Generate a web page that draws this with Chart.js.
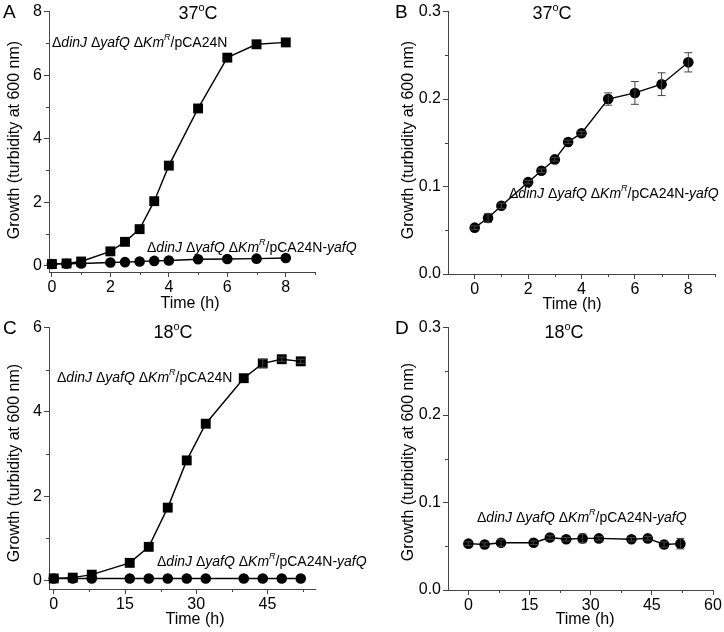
<!DOCTYPE html>
<html>
<head>
<meta charset="utf-8">
<script src="https://cdn.jsdelivr.net/npm/chart.js@4.4.1/dist/chart.umd.min.js"></script>
<style>
  body { margin: 0; background: #fff; }
  #wrap { position: relative; width: 724px; height: 632px; }
  .panel { position: absolute; }
</style>
</head>
<body>
<div id="wrap">
  <div class="panel" style="left:0;top:0;width:362px;height:316px"><canvas id="cA"></canvas></div>
  <div class="panel" style="left:362px;top:0;width:362px;height:316px"><canvas id="cB"></canvas></div>
  <div class="panel" style="left:0;top:316px;width:380px;height:316px"><canvas id="cC"></canvas></div>
  <div class="panel" style="left:362px;top:316px;width:362px;height:316px"><canvas id="cD"></canvas></div>
</div>
<script>
// --- data ---
const timeA = [0, 0.5, 1, 2, 2.5, 3, 3.5, 4, 5, 6, 7, 8];
const vectorA = [0.05, 0.07, 0.13, 0.45, 0.75, 1.15, 2.03, 3.15, 4.95, 6.55, 6.97, 7.03];
const yafqA = [0.05, 0.06, 0.07, 0.10, 0.11, 0.13, 0.15, 0.16, 0.20, 0.21, 0.22, 0.24];

const timeB = timeA;
const yafqB = [0.053, 0.064, 0.078, 0.105, 0.118, 0.131, 0.151, 0.161, 0.200, 0.207, 0.217, 0.242];
const errB = [0.002, 0.005, 0.003, 0.002, 0.002, 0.002, 0.002, 0.002, 0.007, 0.013, 0.013, 0.011];

const timeC = [0, 4, 8, 16, 20, 24, 28, 32, 40, 44, 48, 52];
const vectorC = [0.05, 0.07, 0.14, 0.42, 0.80, 1.73, 2.85, 3.72, 4.80, 5.15, 5.25, 5.20];
const errVectorC = [0, 0, 0, 0, 0, 0, 0, 0, 0, 0.10, 0.05, 0.05];
const yafqC = [0.05, 0.05, 0.05, 0.05, 0.05, 0.05, 0.05, 0.05, 0.05, 0.05, 0.05, 0.05];

const timeD = timeC;
const yafqD = [0.053, 0.052, 0.054, 0.054, 0.060, 0.058, 0.059, 0.059, 0.058, 0.059, 0.052, 0.053];
const errD = [0.002, 0.002, 0.004, 0.002, 0.002, 0.002, 0.005, 0.002, 0.002, 0.002, 0.003, 0.006];

// tick labels
const ticksXA = [0, 2, 4, 6, 8];
const minorXA = [1, 3, 5, 7, 9];
const ticksYA = [0, 2, 4, 6, 8];
const minorYA = [1, 3, 5, 7];
const ticksYB = [0.0, 0.1, 0.2, 0.3];
const minorYB = [0.05, 0.15, 0.25];
const ticksXC = [0, 15, 30, 45];
const minorXC = [7.5, 22.5, 37.5, 52.5];
const ticksYC = [0, 2, 4, 6];
const minorYC = [1, 3, 5];
const ticksXD = [0, 15, 30, 45, 60];

const strainVector = [['Δ', ''], ['dinJ', 'i'], [' Δ', ''], ['yafQ', 'i'], [' Δ', ''], ['Km', 'i'], ['R', 'si'], ['/pCA24N', '']];
const strainYafQ = strainVector.concat([['-', ''], ['yafQ', 'i']]);

const FONT = '"Liberation Sans", Arial, sans-serif';
const INK = '#000';
const AXIS = '#444';

function toPts(xs, ys) {
    return xs.map(function (x, i) { return { x: x, y: ys[i] }; });
}

function fixTicks(values) {
    return function (scale) {
        scale.ticks = values.map(function (v) { return { value: v }; });
    };
}

// draws short minor ticks, error bars and the text on each panel
const panelPlugin = {
    id: 'panel',
    afterDatasetsDraw: function (chart, args, opts) {
        const ctx = chart.ctx;
        const xs = chart.scales.x, ys = chart.scales.y;
        const area = chart.chartArea;
        ctx.save();
        ctx.strokeStyle = AXIS;
        ctx.lineWidth = 1;
        (opts.minorX || []).forEach(function (v) {
            const px = Math.round(xs.getPixelForValue(v)) + 0.5;
            ctx.beginPath(); ctx.moveTo(px, area.bottom); ctx.lineTo(px, area.bottom + 3); ctx.stroke();
        });
        (opts.minorY || []).forEach(function (v) {
            const py = Math.round(ys.getPixelForValue(v)) + 0.5;
            ctx.beginPath(); ctx.moveTo(area.left, py); ctx.lineTo(area.left - 3, py); ctx.stroke();
        });

        // error bars
        ctx.strokeStyle = '#444';
        (opts.errors || []).forEach(function (e) {
            const ds = chart.data.datasets[e.dataset];
            ds.data.forEach(function (p, i) {
                const err = e.values[i];
                if (!err) return;
                const px = xs.getPixelForValue(p.x);
                const top = ys.getPixelForValue(p.y + err);
                const bot = ys.getPixelForValue(p.y - err);
                ctx.beginPath();
                ctx.moveTo(px, top); ctx.lineTo(px, bot);
                ctx.moveTo(px - 4, top); ctx.lineTo(px + 4, top);
                ctx.moveTo(px - 4, bot); ctx.lineTo(px + 4, bot);
                ctx.stroke();
            });
        });
        ctx.restore();
    },
    afterDraw: function (chart, args, opts) {
        const ctx = chart.ctx;
        ctx.save();
        ctx.fillStyle = INK;
        ctx.textBaseline = 'middle';

        ctx.font = '19px ' + FONT;
        ctx.textAlign = 'left';
        ctx.fillText(opts.letter, opts.letterPos[0], opts.letterPos[1]);

        // temperature with superscript o
        ctx.font = '18px ' + FONT;
        const t1 = opts.temp, w1 = ctx.measureText(t1).width;
        ctx.font = '11px ' + FONT;
        const w2 = ctx.measureText('o').width;
        ctx.font = '18px ' + FONT;
        const w3 = ctx.measureText('C').width;
        let tx = opts.tempPos[0] - (w1 + w2 + w3) / 2;
        const ty = opts.tempPos[1];
        ctx.fillText(t1, tx, ty); tx += w1;
        ctx.font = '11px ' + FONT;
        ctx.fillText('o', tx, ty - 6); tx += w2;
        ctx.font = '18px ' + FONT;
        ctx.fillText('C', tx, ty);

        // strain labels
        (opts.notes || []).forEach(function (n) {
            let x = n.pos[0];
            n.parts.forEach(function (part) {
                const style = part[1];
                if (style === 'si') {
                    ctx.font = 'italic 9px ' + FONT;
                    ctx.fillText(part[0], x, n.pos[1] - 6);
                } else {
                    ctx.font = (style === 'i' ? 'italic ' : '') + '14px ' + FONT;
                    ctx.fillText(part[0], x, n.pos[1]);
                }
                x += ctx.measureText(part[0]).width;
            });
        });

        // axis titles
        ctx.font = '16px ' + FONT;
        ctx.textAlign = 'center';
        ctx.fillText('Time (h)', opts.xTitlePos[0], opts.xTitlePos[1]);
        ctx.translate(opts.yTitlePos[0], opts.yTitlePos[1]);
        ctx.rotate(-Math.PI / 2);
        ctx.fillText('Growth (turbidity at 600 nm)', 0, 0);
        ctx.restore();
    }
};

function makeChart(id, cfg) {
    const datasets = cfg.series.map(function (s) {
        return {
            data: s.data,
            borderColor: INK,
            backgroundColor: INK,
            borderWidth: 1.4,
            pointStyle: s.square ? 'rect' : 'circle',
            pointRadius: s.square ? 7 : 5.3,
            pointHoverRadius: s.square ? 7 : 5.3,
            pointBorderWidth: 0,
            tension: 0,
            clip: false
        };
    });
    const tickFont = { family: FONT, size: 16 };
    return new Chart(document.getElementById(id), {
        type: 'line',
        data: { datasets: datasets },
        options: {
            responsive: true,
            maintainAspectRatio: false,
            animation: false,
            events: [],
            layout: { padding: { top: cfg.pad[0], right: cfg.pad[1], bottom: 0, left: 0 } },
            plugins: {
                legend: { display: false },
                tooltip: { enabled: false },
                panel: cfg.panel
            },
            scales: {
                x: {
                    type: 'linear',
                    min: cfg.xRange[0],
                    max: cfg.xRange[1],
                    afterBuildTicks: fixTicks(cfg.xTicks),
                    afterFit: function (s) { s.height = cfg.xHeight; },
                    border: { color: AXIS, width: 1 },
                    grid: { drawOnChartArea: false, drawTicks: true, tickLength: 5, color: AXIS },
                    ticks: { color: INK, font: tickFont, padding: 1, maxRotation: 0, autoSkip: false,
                             callback: function (v) { return String(v); } }
                },
                y: {
                    type: 'linear',
                    min: cfg.yRange[0],
                    max: cfg.yRange[1],
                    afterBuildTicks: fixTicks(cfg.yTicks),
                    afterFit: function (s) { s.width = cfg.yWidth; },
                    border: { color: AXIS, width: 1 },
                    grid: { drawOnChartArea: false, drawTicks: true, tickLength: 5, color: AXIS },
                    ticks: { color: INK, font: tickFont, padding: 2, autoSkip: false,
                             callback: cfg.yFmt || function (v) { return String(v); } }
                }
            }
        },
        plugins: [panelPlugin]
    });
}

const fmt1 = function (v) { return v.toFixed(1); };

makeChart('cA', {
    series: [{ data: toPts(timeA, vectorA), square: true }, { data: toPts(timeA, yafqA) }],
    xRange: [-0.1, 9], yRange: [-0.2, 8],
    xTicks: ticksXA, yTicks: ticksYA,
    yWidth: 49, xHeight: 44, pad: [9, 47],
    panel: {
        letter: 'A', letterPos: [3, 13], temp: '37', tempPos: [198, 14],
        minorX: minorXA, minorY: minorYA,
        notes: [{ pos: [52, 43], parts: strainVector }, { pos: [147, 248], parts: strainYafQ }],
        xTitlePos: [190, 304], yTitlePos: [15, 140]
    }
});

makeChart('cB', {
    series: [{ data: toPts(timeB, yafqB) }],
    xRange: [-1, 9], yRange: [0, 0.3],
    xTicks: ticksXA, yTicks: ticksYB, yFmt: fmt1,
    yWidth: 86, xHeight: 42, pad: [9, 9],
    panel: {
        letter: 'B', letterPos: [33, 13], temp: '37', tempPos: [190, 14],
        minorX: minorXA, minorY: minorYB,
        errors: [{ dataset: 0, values: errB }],
        notes: [{ pos: [147, 194], parts: strainYafQ }],
        xTitlePos: [210, 305], yTitlePos: [47, 140]
    }
});

makeChart('cC', {
    series: [{ data: toPts(timeC, vectorC), square: true }, { data: toPts(timeC, yafqC) }],
    xRange: [-1, 55], yRange: [-0.2, 6],
    xTicks: ticksXC, yTicks: ticksYC,
    yWidth: 49, xHeight: 43, pad: [9, 65],
    panel: {
        letter: 'C', letterPos: [3, 13], temp: '18', tempPos: [173, 17],
        minorX: minorXC, minorY: minorYC,
        errors: [{ dataset: 0, values: errVectorC }],
        notes: [{ pos: [57, 62], parts: strainVector }, { pos: [157, 246], parts: strainYafQ }],
        xTitlePos: [195, 304], yTitlePos: [15, 147]
    }
});

makeChart('cD', {
    series: [{ data: toPts(timeD, yafqD) }],
    xRange: [-5, 60], yRange: [0, 0.3],
    xTicks: ticksXD, yTicks: ticksYB, yFmt: fmt1,
    yWidth: 86, xHeight: 42, pad: [9, 11],
    panel: {
        letter: 'D', letterPos: [33, 13], temp: '18', tempPos: [202, 17],
        minorX: minorXC, minorY: minorYB,
        errors: [{ dataset: 0, values: errD }],
        notes: [{ pos: [115, 202], parts: strainYafQ }],
        xTitlePos: [223, 304], yTitlePos: [47, 146]
    }
});
</script>
</body>
</html>
